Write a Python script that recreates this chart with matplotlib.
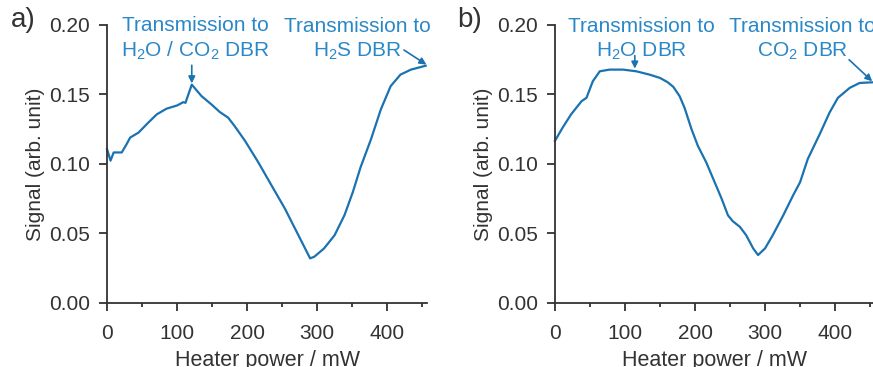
import numpy as np
import matplotlib.pyplot as plt

plt.rcParams['font.family'] = ['Liberation Sans', 'DejaVu Sans']
plt.rcParams['mathtext.fontset'] = 'custom'
plt.rcParams['mathtext.rm'] = 'Liberation Sans'
plt.rcParams['mathtext.default'] = 'regular'

# panel a: heater power (mW) vs signal
power_a = [0, 5, 9.5, 21, 28, 33, 45, 59, 71, 85, 100, 109, 112, 121, 135, 149, 161, 173,
           182, 197, 216, 235, 254, 272, 290, 296, 310, 325, 339, 351, 362, 377, 391, 405,
           419, 434, 455]
signal_a = [0.1107, 0.1024, 0.1083, 0.1083, 0.1143, 0.119, 0.1226, 0.1298, 0.1357, 0.1398,
            0.1421, 0.1445, 0.144, 0.1571, 0.1488, 0.1429, 0.1374, 0.1333, 0.1274, 0.1167,
            0.1012, 0.0845, 0.0679, 0.050, 0.0321, 0.0333, 0.0393, 0.0488, 0.0631, 0.0798,
            0.0976, 0.1179, 0.1393, 0.156, 0.1643, 0.1679, 0.1707]

# panel b
power_b = [0, 11, 23, 38, 45, 54, 64, 78, 97, 116, 135, 150, 161, 169, 178, 185, 195, 204,
           216, 226, 238, 247, 254, 264, 273, 283, 290, 300, 311, 326, 340, 350, 361, 378,
           392, 404, 421, 435, 455]
signal_b = [0.1167, 0.1262, 0.1357, 0.1452, 0.1476, 0.1595, 0.1667, 0.1679, 0.1679, 0.1667,
            0.1643, 0.1619, 0.1588, 0.1555, 0.1488, 0.1405, 0.125, 0.1131, 0.1012, 0.0893,
            0.075, 0.0631, 0.0588, 0.0548, 0.0488, 0.0393, 0.0345, 0.0393, 0.0488, 0.0631,
            0.0774, 0.0869, 0.1036, 0.1214, 0.1369, 0.1476, 0.1548, 0.1583, 0.1588]

line_col = '#1b72b0'
text_col = '#2a88c8'
dark = '#333333'

fig = plt.figure(figsize=(8.73, 3.67), dpi=100)
ax_a = fig.add_axes([0.1226, 0.1744, 0.3666, 0.7575])
ax_b = fig.add_axes([0.6357, 0.1744, 0.3666, 0.7575])


def style_axes(ax):
    ax.set_xlim(0, 457)
    ax.set_ylim(0, 0.20)
    ax.set_xticks([0, 100, 200, 300, 400])
    ax.set_xticks([50, 150, 250, 350, 450], minor=True)
    ax.set_yticks([0, 0.05, 0.10, 0.15, 0.20])
    ax.set_yticklabels(['0.00', '0.05', '0.10', '0.15', '0.20'])
    for s in ['top', 'right']:
        ax.spines[s].set_visible(False)
    for s in ['left', 'bottom']:
        ax.spines[s].set_color(dark)
        ax.spines[s].set_linewidth(1.3)
    ax.tick_params(axis='both', which='major', direction='out', length=6, width=1.3,
                   colors=dark, labelsize=15)
    ax.tick_params(axis='x', which='major', pad=9)
    ax.tick_params(axis='y', which='major', pad=6)
    ax.tick_params(axis='x', which='minor', direction='out', length=3, width=1.3, colors=dark)
    ax.set_xlabel('Heater power / mW', fontsize=15.5, color=dark, labelpad=5)
    ax.set_ylabel('Signal (arb. unit)', fontsize=15, color=dark, labelpad=3)


def note(ax, x, y, txt):
    ax.text(x, y, txt, ha='center', va='center', fontsize=15, color=text_col,
            linespacing=1.28, clip_on=False)


def arrow(ax, start, end):
    ax.annotate('', xy=end, xytext=start, annotation_clip=False,
                arrowprops=dict(arrowstyle='-|>', color=line_col, lw=1.2,
                                mutation_scale=10, shrinkA=0, shrinkB=0))


ax_a.plot(power_a, signal_a, color=line_col, lw=1.6, clip_on=False)
style_axes(ax_a)
note(ax_a, 126, 0.1898, 'Transmission to\nH$_2$O / CO$_2$ DBR')
note(ax_a, 357, 0.1898, 'Transmission to\nH$_2$S DBR')
arrow(ax_a, (121, 0.171), (121, 0.158))
arrow(ax_a, (424, 0.182), (456, 0.1715))

ax_b.plot(power_b, signal_b, color=line_col, lw=1.6, clip_on=False)
style_axes(ax_b)
note(ax_b, 124, 0.1898, 'Transmission to\nH$_2$O DBR')
note(ax_b, 353, 0.1898, 'Transmission to\nCO$_2$ DBR')
arrow(ax_b, (114, 0.178), (114, 0.1686))
arrow(ax_b, (420, 0.175), (453, 0.1595))

fig.text(0.012, 0.945, 'a)', fontsize=20, color=dark, va='center')
fig.text(0.524, 0.945, 'b)', fontsize=20, color=dark, va='center')

fig.savefig('out.png', dpi=100)
